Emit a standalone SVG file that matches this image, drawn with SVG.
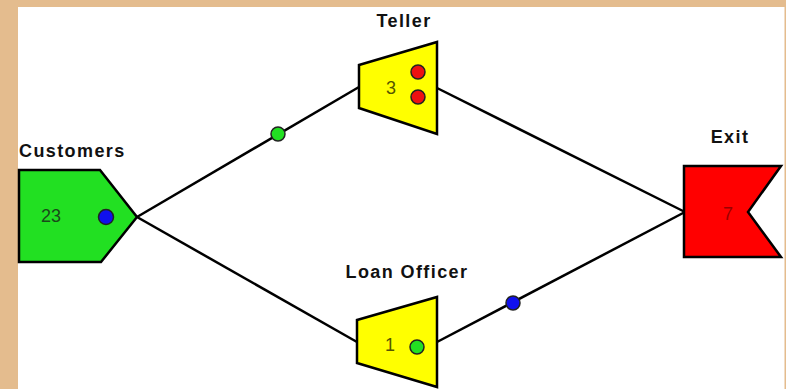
<svg xmlns="http://www.w3.org/2000/svg" width="786" height="389" viewBox="0 0 786 389">
<style>
.lbl{font-family:"Liberation Sans",Arial,sans-serif;font-weight:bold;font-size:18px;letter-spacing:1.4px;fill:#111}
.num{font-family:"Liberation Sans",Arial,sans-serif;font-size:18px}
.shape{stroke:#000;stroke-width:2.5;stroke-linejoin:miter}
.dot{stroke:#222;stroke-width:1.5}
.conn{stroke:#000;stroke-width:2.5;fill:none}
</style>
<rect x="0" y="0" width="786" height="389" fill="#ffffff"/>
<rect x="0" y="0" width="18" height="389" fill="#e4bc8e"/>
<rect x="0" y="0" width="786" height="7" fill="#e4bc8e"/>
<rect x="784.5" y="0" width="1.5" height="389" fill="#e4bc8e"/>
<g id="connectors">
<line class="conn" x1="137" y1="217" x2="359" y2="87"/>
<line class="conn" x1="137" y1="217" x2="357" y2="342"/>
<line class="conn" x1="437" y1="88" x2="685" y2="212"/>
<line class="conn" x1="437" y1="342" x2="685" y2="212"/>
<circle class="dot" cx="278" cy="134" r="7" fill="#22e022"/>
<circle class="dot" cx="513" cy="303" r="7" fill="#1010ee"/>
</g>
<g id="customers">
<text class="lbl" x="19" y="157">Customers</text>
<polygon class="shape" points="19,170 100,170 137,217 101,262 19,262" fill="#22e022"/>
<text class="num" x="41" y="222" fill="#1a4a1a">23</text>
<circle class="dot" cx="106" cy="217" r="7.5" fill="#1010ee"/>
</g>
<g id="teller">
<text class="lbl" x="404" y="27" text-anchor="middle">Teller</text>
<polygon class="shape" points="359,65 437,42 437,134 359,108" fill="#ffff00"/>
<text class="num" x="386" y="94" fill="#555500">3</text>
<circle class="dot" cx="418" cy="72" r="7" fill="#ee1111"/>
<circle class="dot" cx="418" cy="97" r="7" fill="#ee1111"/>
</g>
<g id="loan-officer">
<text class="lbl" x="407" y="278" text-anchor="middle">Loan Officer</text>
<polygon class="shape" points="357,320 437,297 437,387 357,363" fill="#ffff00"/>
<text class="num" x="385" y="351" fill="#555500">1</text>
<circle class="dot" cx="417" cy="347" r="7" fill="#22e022"/>
</g>
<g id="exit">
<text class="lbl" x="730" y="143" text-anchor="middle">Exit</text>
<polygon class="shape" points="684,166 781,166 748,212 781,257 684,257" fill="#ff0000"/>
<text class="num" x="723" y="220" fill="#990000">7</text>
</g>
</svg>
